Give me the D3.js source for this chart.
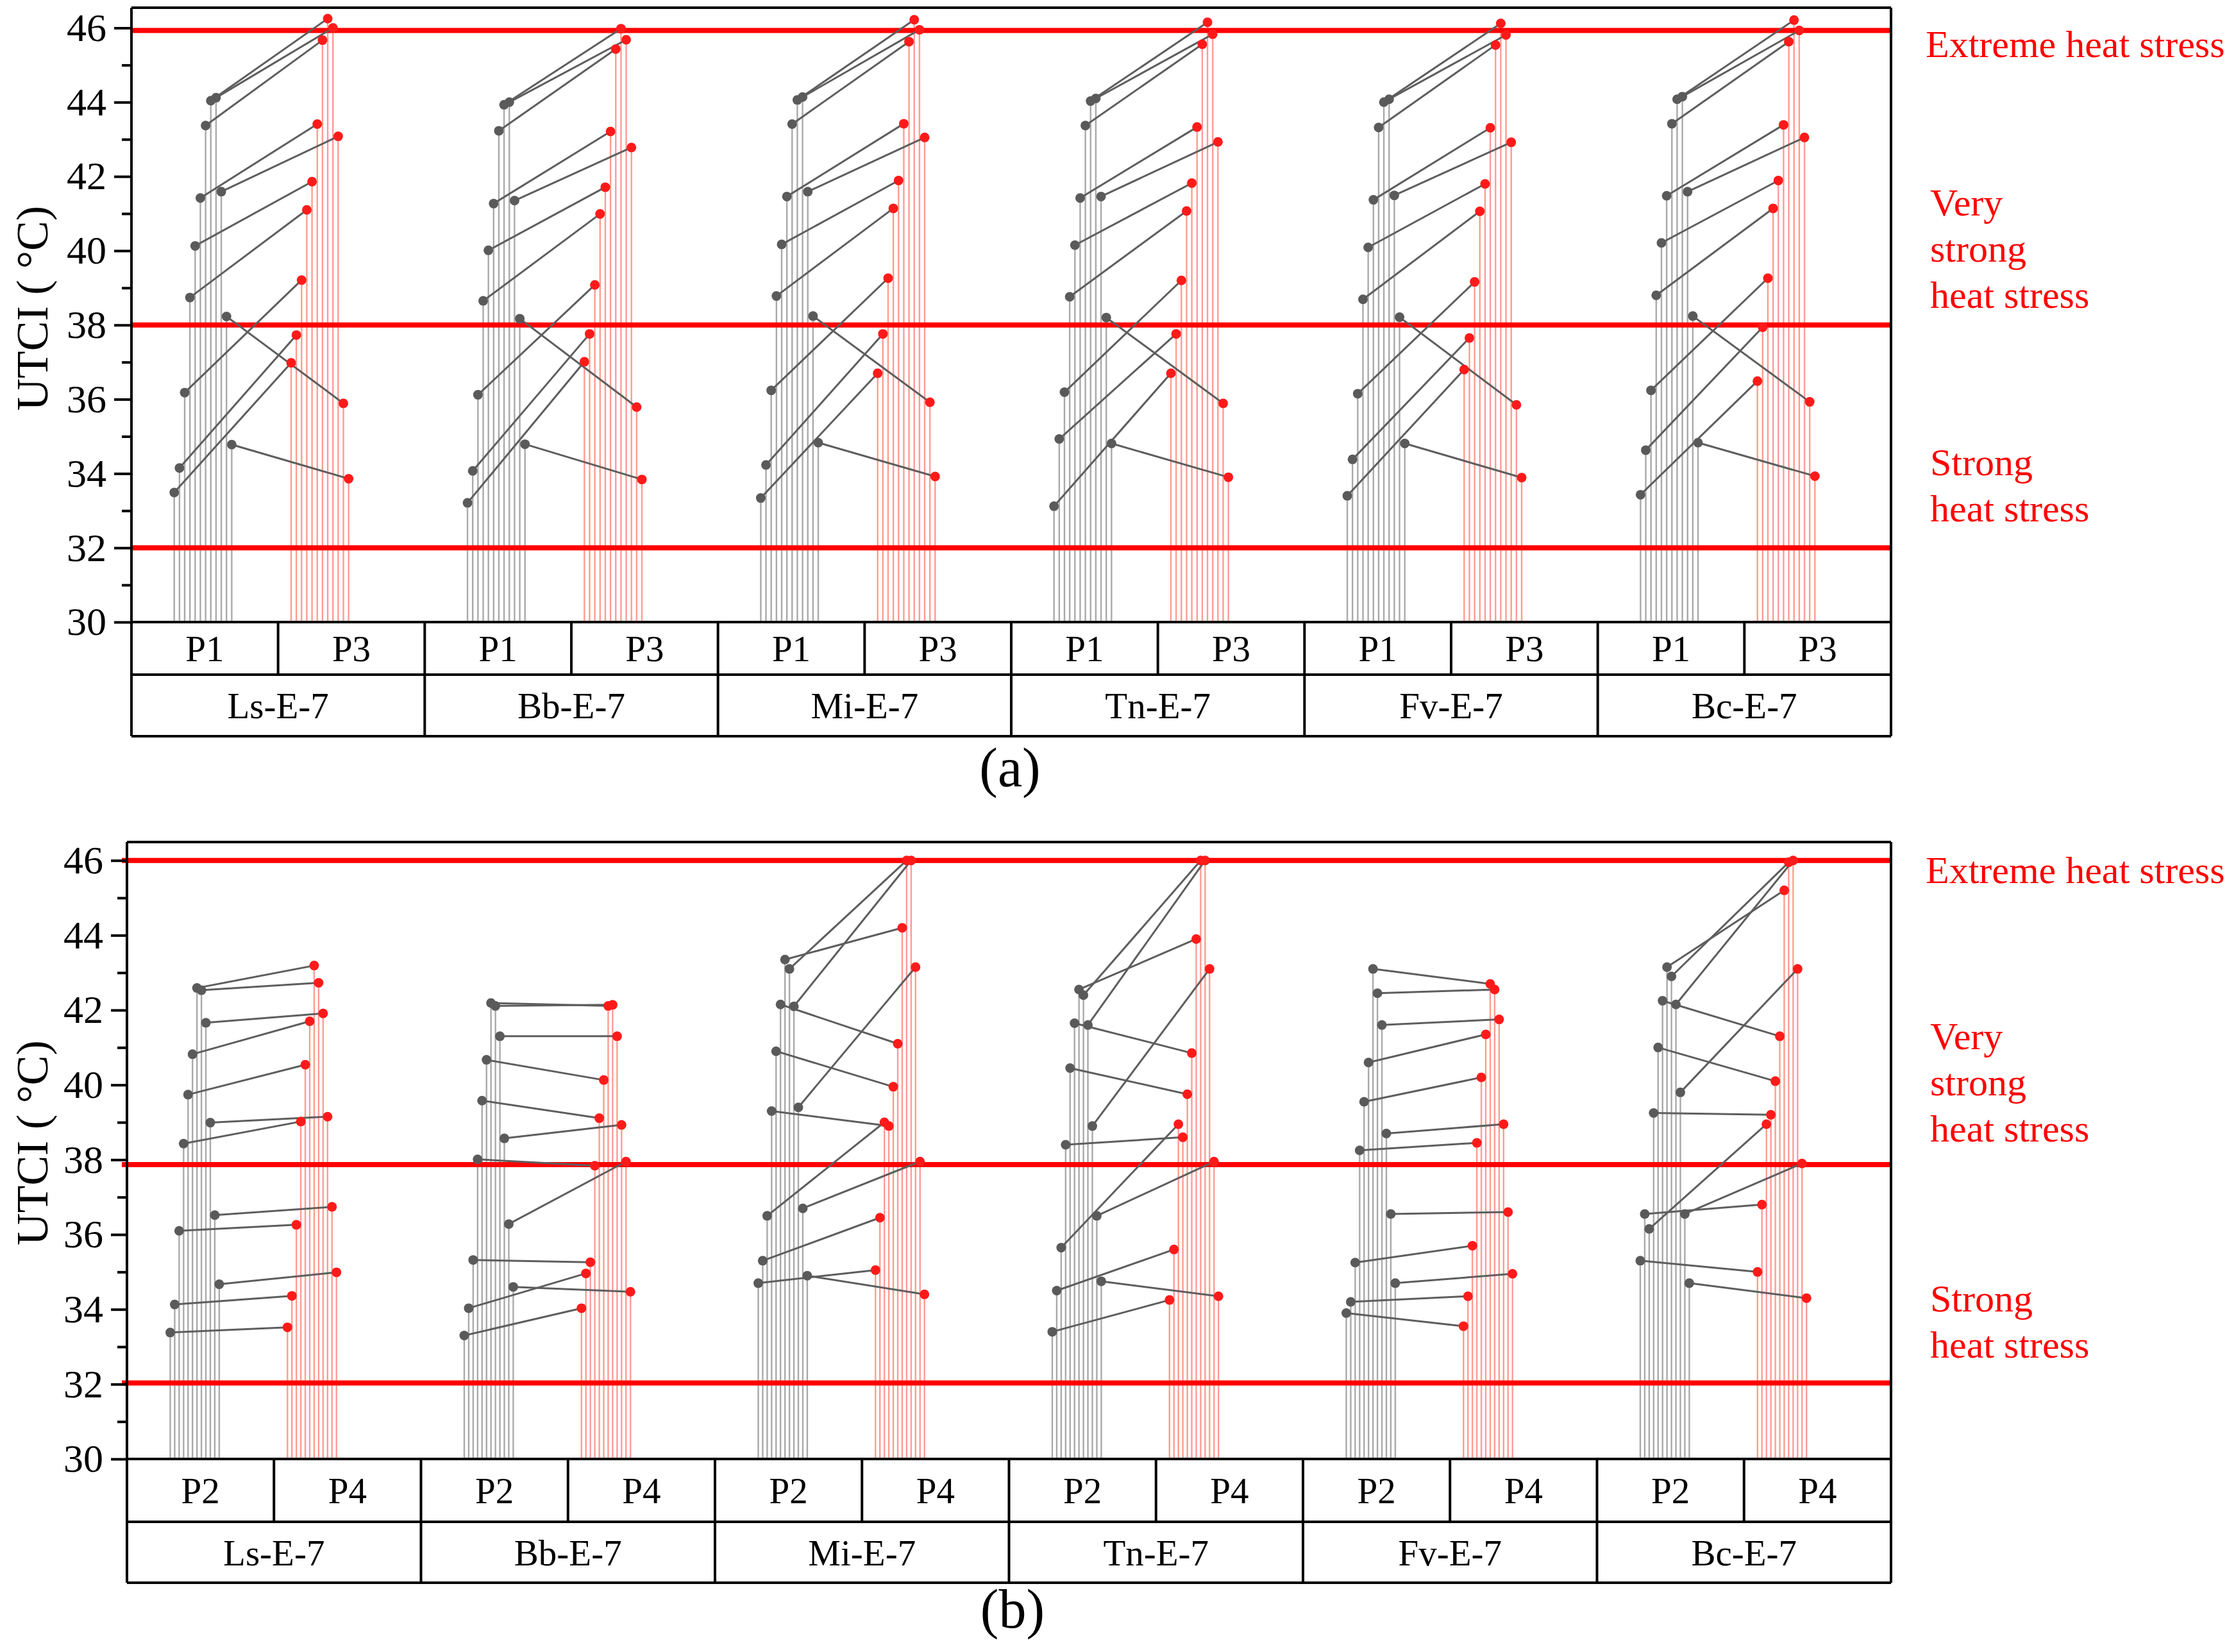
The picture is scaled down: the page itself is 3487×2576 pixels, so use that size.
<!DOCTYPE html>
<html><head><meta charset="utf-8">
<script src="https://cdn.jsdelivr.net/npm/d3@7"></script>
<style>html,body{margin:0;padding:0;background:#fff}svg{display:block}</style>
</head><body>
<svg id="chart" width="3487" height="2576"></svg>
<script>
// ---------------- DATA ----------------
const groups = ["Ls-E-7", "Bb-E-7", "Mi-E-7", "Tn-E-7", "Fv-E-7", "Bc-E-7"];
const periodsA = ["P1", "P3"];
const periodsB = ["P2", "P4"];
const yTickValues = [30, 32, 34, 36, 38, 40, 42, 44, 46];
const yMinorValues = [31, 33, 35, 37, 39, 41, 43, 45];
const zoneLabels = [["Extreme heat stress"], ["Very", "strong", "heat stress"], ["Strong", "heat stress"]];
const thresholdsA = [45.93, 38, 32];
const thresholdsB = [46, 37.87, 32.03];
const panelLabels = ["(a)", "(b)"];

// panel (a): 12 points per group, P1 -> P3
const P1 = [
  [33.49, 34.15, 36.18, 38.74, 40.13, 41.42, 43.37, 44.04, 44.12, 41.59, 38.23, 34.78],
  [33.21, 34.07, 36.12, 38.65, 40.01, 41.27, 43.23, 43.93, 44.00, 41.35, 38.17, 34.79],
  [33.34, 34.23, 36.24, 38.78, 40.17, 41.46, 43.41, 44.06, 44.14, 41.59, 38.24, 34.83],
  [33.12, 34.93, 36.19, 38.76, 40.15, 41.42, 43.37, 44.03, 44.10, 41.46, 38.20, 34.81],
  [33.40, 34.38, 36.15, 38.69, 40.09, 41.37, 43.32, 44.00, 44.08, 41.49, 38.21, 34.81],
  [33.43, 34.63, 36.24, 38.80, 40.21, 41.48, 43.42, 44.08, 44.15, 41.59, 38.24, 34.83]
];
const P3 = [
  [36.98, 37.73, 39.21, 41.10, 41.86, 43.41, 45.67, 46.25, 46.00, 43.08, 35.89, 33.86],
  [37.01, 37.76, 39.08, 40.99, 41.71, 43.21, 45.43, 45.98, 45.68, 42.78, 35.79, 33.84],
  [36.70, 37.76, 39.26, 41.14, 41.89, 43.42, 45.63, 46.22, 45.95, 43.05, 35.92, 33.92],
  [36.70, 37.76, 39.20, 41.07, 41.82, 43.33, 45.56, 46.15, 45.83, 42.93, 35.89, 33.90],
  [36.80, 37.65, 39.16, 41.06, 41.80, 43.31, 45.54, 46.12, 45.81, 42.92, 35.85, 33.89],
  [36.49, 37.94, 39.26, 41.14, 41.89, 43.39, 45.63, 46.21, 45.93, 43.05, 35.93, 33.93]
];
// panel (b): P2 -> P4
const P2 = [
  [33.38, 34.13, 36.10, 38.43, 39.74, 40.82, 42.59, 42.53, 41.66, 38.99, 36.52, 34.67],
  [33.30, 34.03, 35.32, 38.01, 39.58, 40.67, 42.19, 42.11, 41.30, 38.57, 36.28, 34.60],
  [34.70, 35.30, 36.50, 39.30, 40.90, 42.15, 43.35, 43.10, 42.10, 39.40, 36.70, 34.90],
  [33.40, 34.50, 35.65, 38.40, 40.45, 41.65, 42.55, 42.40, 41.60, 38.90, 36.50, 34.75],
  [33.90, 34.20, 35.25, 38.25, 39.55, 40.60, 43.10, 42.45, 41.60, 38.70, 36.55, 34.70],
  [35.30, 36.55, 36.15, 39.25, 41.00, 42.25, 43.15, 42.90, 42.15, 39.80, 36.55, 34.70]
];
const P4 = [
  [33.52, 34.36, 36.26, 39.02, 40.54, 41.70, 43.19, 42.73, 41.91, 39.15, 36.74, 34.99],
  [34.03, 34.96, 35.26, 37.84, 39.11, 40.13, 42.11, 42.14, 41.30, 38.93, 37.95, 34.47],
  [35.05, 36.45, 39.00, 38.90, 39.95, 41.10, 44.20, 46.00, 46.00, 43.15, 37.95, 34.40],
  [34.25, 35.60, 38.95, 38.60, 39.75, 40.85, 43.90, 46.00, 46.00, 43.10, 37.95, 34.35],
  [33.55, 34.35, 35.70, 38.45, 40.20, 41.35, 42.70, 42.55, 41.75, 38.95, 36.60, 34.95],
  [35.00, 36.80, 38.95, 39.20, 40.10, 41.30, 45.20, 45.95, 46.00, 43.10, 37.90, 34.30]
];

// ---------------- DRAWING ----------------
const FONT = "'Liberation Serif','Times New Roman',Times,serif";
const svg = d3.select("#chart");
svg.append("rect").attr("width", 3487).attr("height", 2576).attr("fill", "#fff");

function drawPanel(cfg) {
  const g = svg.append("g");
  const y = d3.scaleLinear().domain([30, 46]).range([cfg.y30, cfg.y46]);
  const xg = d3.scaleBand().domain(groups).range([cfg.left, cfg.right]);
  const bw = xg.bandwidth();
  const xs = d3.scaleOrdinal().domain(cfg.periods).range(cfg.firstFrac);
  const xi = d3.scaleLinear().domain([0, 11]).range([0, cfg.stepFrac * 11]);
  const px = (grp, per, i) => xg(grp) + (xs(per) + xi(i)) * bw;

  const pts = [];
  groups.forEach((grp, gi) => {
    cfg.series[0][gi].forEach((v, i) => pts.push({grp, per: cfg.periods[0], i, v, k: 0}));
    cfg.series[1][gi].forEach((v, i) => pts.push({grp, per: cfg.periods[1], i, v, k: 1}));
  });

  // drop lines
  g.append("g").selectAll("line").data(pts).join("line")
    .attr("x1", d => px(d.grp, d.per, d.i)).attr("x2", d => px(d.grp, d.per, d.i))
    .attr("y1", d => y(d.v)).attr("y2", y(30))
    .attr("stroke", d => d.k === 0 ? "#8c8c8c" : "#ff5a4a")
    .attr("stroke-opacity", d => d.k === 0 ? 0.75 : 0.6)
    .attr("stroke-width", 2.4);

  // threshold lines
  g.append("g").selectAll("line").data(cfg.thresholds).join("line")
    .attr("x1", cfg.left - cfg.redExt).attr("x2", cfg.right)
    .attr("y1", d => y(d)).attr("y2", d => y(d))
    .attr("stroke", "#ff0000").attr("stroke-width", 8);

  // connecting lines
  const links = [];
  groups.forEach((grp, gi) => {
    cfg.series[0][gi].forEach((v, i) => links.push({grp, i, a: v, b: cfg.series[1][gi][i]}));
  });
  g.append("g").selectAll("line").data(links).join("line")
    .attr("x1", d => px(d.grp, cfg.periods[0], d.i)).attr("y1", d => y(d.a))
    .attr("x2", d => px(d.grp, cfg.periods[1], d.i)).attr("y2", d => y(d.b))
    .attr("stroke", "#5e5e5e").attr("stroke-width", 3);

  // dots
  g.append("g").selectAll("circle").data(pts).join("circle")
    .attr("cx", d => px(d.grp, d.per, d.i)).attr("cy", d => y(d.v)).attr("r", 7.5)
    .attr("fill", d => d.k === 0 ? "#5a5a5a" : "#ff1a1a");

  // y axis
  const ax = g.append("g").attr("transform", `translate(${cfg.left},0)`)
    .call(d3.axisLeft(y).tickValues(yTickValues).tickSize(cfg.tick).tickSizeOuter(0)
      .tickPadding(12).tickFormat(d3.format("d")));
  ax.select(".domain").remove();
  ax.selectAll(".tick line").attr("stroke", "#000").attr("stroke-width", 4);
  ax.selectAll(".tick text").attr("font-family", FONT).attr("font-size", 62).attr("fill", "#000");
  const axm = g.append("g").attr("transform", `translate(${cfg.left},0)`)
    .call(d3.axisLeft(y).tickValues(yMinorValues).tickSize(15).tickSizeOuter(0).tickFormat(""));
  axm.select(".domain").remove();
  axm.selectAll(".tick line").attr("stroke", "#000").attr("stroke-width", 4);

  // frame + category table
  const fr = g.append("g").attr("stroke", "#000").attr("stroke-width", 4).attr("fill", "none");
  fr.append("line").attr("x1", cfg.left).attr("x2", cfg.right).attr("y1", cfg.top).attr("y2", cfg.top);
  fr.append("line").attr("x1", cfg.left).attr("x2", cfg.left).attr("y1", cfg.top).attr("y2", cfg.rowN);
  fr.append("line").attr("x1", cfg.right).attr("x2", cfg.right).attr("y1", cfg.top).attr("y2", cfg.rowN);
  [y(30), cfg.rowP, cfg.rowN].forEach(yy =>
    fr.append("line").attr("x1", cfg.left).attr("x2", cfg.right).attr("y1", yy).attr("y2", yy));
  const xsub = d3.scaleBand().domain(cfg.periods).range([0, bw]);
  groups.forEach((grp, gi) => {
    if (gi > 0) fr.append("line").attr("x1", xg(grp)).attr("x2", xg(grp)).attr("y1", y(30)).attr("y2", cfg.rowN);
    fr.append("line").attr("x1", xg(grp) + xsub(cfg.periods[1])).attr("x2", xg(grp) + xsub(cfg.periods[1]))
      .attr("y1", y(30)).attr("y2", cfg.rowP);
    cfg.periods.forEach(per => {
      g.append("text").attr("x", xg(grp) + xsub(per) + xsub.bandwidth() / 2)
        .attr("y", (y(30) + cfg.rowP) / 2 + 20).attr("text-anchor", "middle")
        .attr("font-family", FONT).attr("font-size", 57).text(per);
    });
    g.append("text").attr("x", xg(grp) + bw / 2).attr("y", (cfg.rowP + cfg.rowN) / 2 + 20)
      .attr("text-anchor", "middle").attr("font-family", FONT).attr("font-size", 57).text(grp);
  });

  // y title
  g.append("text").attr("transform", `translate(74,${y(38.45)}) rotate(-90)`)
    .attr("text-anchor", "middle").attr("font-family", FONT).attr("font-size", 70).text("UTCI ( °C)");

  // zone labels
  zoneLabels.forEach((lines, zi) => {
    const t = g.append("text").attr("font-family", FONT).attr("font-size", 60).attr("fill", "#ff0000")
      .attr("x", 3008).attr("y", y(cfg.zoneAnchors[zi]));
    lines.forEach((ln, li) => t.append("tspan").attr("x", zi === 0 ? 3003 : 3010).attr("dy", li === 0 ? 0 : 72).text(ln));
  });

  // panel label
  g.append("text").attr("x", cfg.labelX).attr("y", cfg.labelY).attr("text-anchor", "middle")
    .attr("font-family", FONT).attr("font-size", 86).text(cfg.label);
}

drawPanel({
  left: 205, right: 2949, top: 12, y46: 43.5, y30: 970, rowP: 1052, rowN: 1148,
  periods: periodsA, series: [P1, P3], thresholds: thresholdsA,
  firstFrac: [0.1459, 0.5445], stepFrac: 0.01782, tick: 27, redExt: 0,
  zoneAnchors: [45.21, 40.95, 33.95],
  label: panelLabels[0], labelX: 1575, labelY: 1226
});
drawPanel({
  left: 198, right: 2949, top: 1313, y46: 1341.7, y30: 2275, rowP: 2373, rowN: 2468,
  periods: periodsB, series: [P2, P4], thresholds: thresholdsB,
  firstFrac: [0.1472, 0.5459], stepFrac: 0.01515, tick: 25, redExt: 8,
  zoneAnchors: [45.4, 40.95, 33.95],
  label: panelLabels[1], labelX: 1579, labelY: 2538
});
</script>
</body></html>
